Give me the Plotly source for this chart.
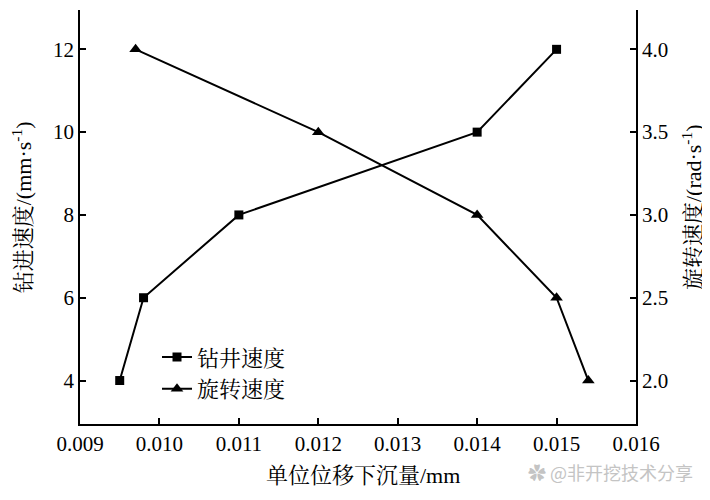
import plotly.graph_objects as go

drill_x = [0.0095, 0.0098, 0.011, 0.014, 0.015]
drill_y = [4, 6, 8, 10, 12]
rot_x = [0.0097, 0.012, 0.014, 0.015, 0.0154]
rot_y = [4.0, 3.5, 3.0, 2.5, 2.0]

x_ticks = [0.009, 0.010, 0.011, 0.012, 0.013, 0.014, 0.015, 0.016]
x_ticklabels = ["0.009", "0.010", "0.011", "0.012", "0.013", "0.014", "0.015", "0.016"]
y1_ticks = [4, 6, 8, 10, 12]
y2_ticks = [2.0, 2.5, 3.0, 3.5, 4.0]
y2_ticklabels = ["2.0", "2.5", "3.0", "3.5", "4.0"]

FONT = "Liberation Serif, Noto Serif CJK SC, Noto Sans CJK SC, serif"
FS = 21
TS = 22

fig = go.Figure()
fig.add_trace(go.Scatter(
    x=drill_x, y=drill_y, mode="lines+markers", name="钻井速度",
    line=dict(color="black", width=2),
    marker=dict(symbol="square", size=9, color="black"),
    yaxis="y"))
fig.add_trace(go.Scatter(
    x=rot_x, y=rot_y, mode="lines+markers", name="旋转速度",
    line=dict(color="black", width=2),
    marker=dict(symbol="triangle-up", size=11, color="black"),
    yaxis="y2"))

axis_common = dict(showgrid=False, zeroline=False, showline=True, linecolor="black",
                   linewidth=1.5, ticks="inside", ticklen=6, tickwidth=1.5, tickcolor="black",
                   automargin=False,
                   tickfont=dict(family=FONT, size=FS, color="black"))

fig.update_layout(
    width=702, height=492,
    margin=dict(l=72, r=74, t=2, b=76),
    plot_bgcolor="white", paper_bgcolor="white",
    font=dict(family=FONT, color="black", size=FS),
    xaxis=dict(range=[0.009, 0.016], tickvals=x_ticks, ticktext=x_ticklabels, **axis_common),
    yaxis=dict(range=[2.95, 12.95], tickvals=y1_ticks, **axis_common),
    yaxis2=dict(range=[1.7375, 4.2375], tickvals=y2_ticks, ticktext=y2_ticklabels,
                overlaying="y", side="right", **axis_common),
    legend=dict(x=0.1385, y=0.212, xanchor="left", yanchor="top",
                bgcolor="rgba(0,0,0,0)", font=dict(family=FONT, size=TS),
                tracegroupgap=0, itemwidth=30),
    showlegend=True,
)

fig.add_annotation(text="钻进速度/(mm·s<sup>-1</sup>)", xref="paper", yref="paper",
                   x=-0.104, y=0.524, textangle=-90, showarrow=False,
                   xanchor="center", yanchor="middle", font=dict(family=FONT, size=TS))
fig.add_annotation(text="旋转速度/(rad·s<sup>-1</sup>)", xref="paper", yref="paper",
                   x=1.1007, y=0.524, textangle=-90, showarrow=False,
                   xanchor="center", yanchor="middle", font=dict(family=FONT, size=TS))
fig.add_annotation(text="单位位移下沉量/mm", xref="paper", yref="paper",
                   x=0.509, y=-0.1256, showarrow=False,
                   xanchor="center", yanchor="middle", font=dict(family=FONT, size=TS))
fig.add_annotation(text="✿ @非开挖技术分享", xref="paper", yref="paper", x=1.106, y=-0.08,
                   xanchor="right", yanchor="top", showarrow=False,
                   font=dict(family="Noto Sans CJK SC", size=18, color="#c4c4c4"))

fig.write_html("out.html")
